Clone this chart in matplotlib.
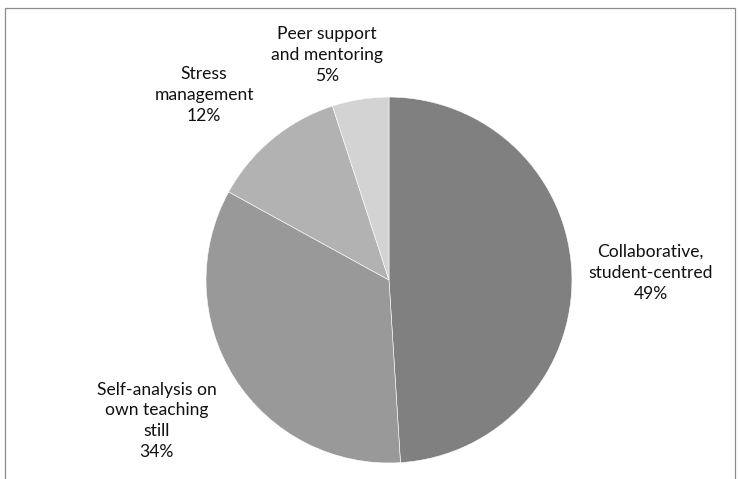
import matplotlib.pyplot as plt
from matplotlib.patches import Rectangle

labels = ['Collaborative,\nstudent-centred', 'Self-analysis on\nown teaching\nstill',
          'Stress\nmanagement', 'Peer support\nand mentoring']
shares = [49, 34, 12, 5]
colors = ['#808080', '#999999', '#b2b2b2', '#d3d3d3']
# label anchor points, in pie-radius units
label_xy = [(1.43, 0.04), (-1.27, -0.77), (-1.01, 1.01), (-0.34, 1.23)]

plt.rcParams['font.family'] = ['Lato', 'DejaVu Sans']

fig = plt.figure(figsize=(7.39, 4.79), dpi=100)
ax = fig.add_axes([0, 0, 1, 1])

ax.pie(shares, colors=colors, startangle=90, counterclock=False, radius=1,
       wedgeprops=dict(edgecolor='white', linewidth=0.4))

for lab, val, (x, y) in zip(labels, shares, label_xy):
    ax.text(x, y, f'{lab}\n{val}%', ha='center', va='center',
            fontsize=12.6, linespacing=1.38, color='#111111')

ax.set_xlim(-2.126, 1.913)
ax.set_ylim(-1.087, 1.530)
ax.set_aspect('equal')
ax.axis('off')

# thin frame round the chart area
fig.patches.append(Rectangle((5 / 739, -0.1), 730 / 739, 1.1 - 8 / 479,
                             transform=fig.transFigure, fill=False,
                             edgecolor='#8c8c8c', linewidth=0.9))

fig.savefig('out.png', dpi=100)
